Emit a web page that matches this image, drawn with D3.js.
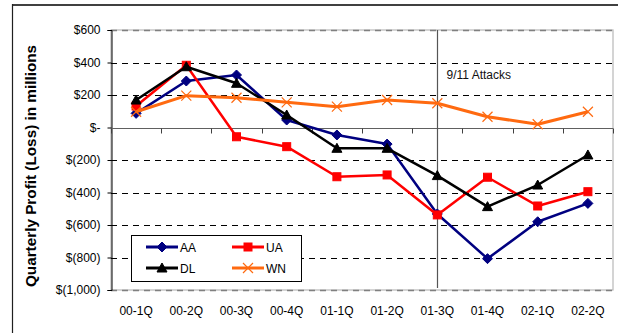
<!DOCTYPE html>
<html>
<head>
<meta charset="utf-8">
<script src="https://cdn.jsdelivr.net/npm/d3@7"></script>
<style>
  html, body { margin: 0; padding: 0; background: #fff; }
  svg { display: block; font-family: Arial, "Liberation Sans", sans-serif; }
</style>
</head>
<body>
<svg id="chart" width="618" height="333"></svg>
<script>
// Quarterly profit (loss) of four US airlines, $ millions
const quarters = ["00-1Q", "00-2Q", "00-3Q", "00-4Q", "01-1Q", "01-2Q", "01-3Q", "01-4Q", "02-1Q", "02-2Q"];
const aa = [87, 286, 323, 46, -46, -102, -532, -807, -580, -467];
const ua = [132, 383, -57, -118, -303, -292, -538, -306, -483, -395];
const dl = [169, 374, 272, 77, -128, -128, -296, -487, -354, -169];
const wn = [97, 196, 183, 155, 128, 169, 149, 66, 20, 97];
const yTicks = [600, 400, 200, 0, -200, -400, -600, -800, -1000];
const eventQuarter = "01-3Q";
const eventLabel = "9/11 Attacks";

const series = [
  { name: "AA", values: aa, color: "#000080", marker: "diamond" },
  { name: "UA", values: ua, color: "#ff0000", marker: "square" },
  { name: "DL", values: dl, color: "#000000", marker: "triangle" },
  { name: "WN", values: wn, color: "#ff6a10", marker: "cross" }
];

const svg = d3.select("#chart");
const plot = { left: 111, right: 613, top: 30, bottom: 290 };

// outer frame
svg.append("line").attr("x1", 12).attr("x2", 618).attr("y1", 5).attr("y2", 5)
  .attr("stroke", "#404040").attr("stroke-width", 2);
svg.append("line").attr("x1", 12.5).attr("x2", 12.5).attr("y1", 4).attr("y2", 333)
  .attr("stroke", "#202020").attr("stroke-width", 1.2);

const x = d3.scaleBand().domain(quarters).range([plot.left, plot.right]);
const y = d3.scaleLinear().domain([-1000, 600]).range([plot.bottom, plot.top]);

const fmt = v => v === 0 ? "$-" : (v < 0 ? "$(" + d3.format(",")(-v) + ")" : "$" + d3.format(",")(v));

// plot area border
svg.append("rect").attr("x", plot.left).attr("y", plot.top)
  .attr("width", plot.right - plot.left).attr("height", plot.bottom - plot.top)
  .attr("fill", "none").attr("stroke", "#b8b8b8").attr("stroke-width", 1.2);

// dashed gridlines
svg.append("g").selectAll("line").data(yTicks.filter(v => v !== 0)).join("line")
  .attr("x1", plot.left).attr("x2", plot.right)
  .attr("y1", d => Math.round(y(d)) + 0.5).attr("y2", d => Math.round(y(d)) + 0.5)
  .attr("stroke", d => (d === 600 || d === -1000) ? "#808080" : "#000")
  .attr("stroke-width", d => (d === 600 || d === -1000) ? 1.5 : 1)
  .attr("stroke-dasharray", "6,5");

// y axis
const yAxis = svg.append("g").attr("transform", `translate(${plot.left + 0.5},0)`)
  .call(d3.axisLeft(y).tickValues(yTicks).tickFormat(fmt).tickSize(4).tickPadding(7));
yAxis.select(".domain").attr("stroke", "#000");
yAxis.selectAll(".tick line").attr("stroke", "#000");
yAxis.selectAll("text").attr("font-size", 12).attr("fill", "#000")
  .attr("font-family", "Arial, 'Liberation Sans', sans-serif");

// zero line with category tick marks
const y0 = Math.round(y(0)) + 0.5;
svg.append("line").attr("x1", plot.left).attr("x2", plot.right).attr("y1", y0).attr("y2", y0)
  .attr("stroke", "#606060").attr("stroke-width", 1);
const bounds = quarters.map(q => x(q)).concat([plot.right]);
svg.append("g").selectAll("line").data(bounds).join("line")
  .attr("x1", d => Math.round(d) + 0.5).attr("x2", d => Math.round(d) + 0.5)
  .attr("y1", y0).attr("y2", y0 + 5).attr("stroke", "#404040");

// category labels along the bottom
svg.append("g").selectAll("text").data(quarters).join("text")
  .attr("x", d => x(d) + x.bandwidth() / 2).attr("y", 315)
  .attr("text-anchor", "middle").attr("font-size", 12).attr("fill", "#000")
  .text(d => d);

// event marker
const ex = Math.round(x(eventQuarter) + x.bandwidth() / 2) + 0.5;
svg.append("line").attr("x1", ex).attr("x2", ex).attr("y1", plot.top).attr("y2", plot.bottom - 2)
  .attr("stroke", "#555").attr("stroke-width", 1.2);
svg.append("text").attr("x", ex + 9).attr("y", 79).attr("font-size", 12).attr("fill", "#111")
  .text(eventLabel);

// y axis title
svg.append("text")
  .attr("transform", `translate(35.5,166) rotate(-90)`)
  .attr("text-anchor", "middle").attr("font-size", 15.3).attr("font-weight", "bold")
  .text("Quarterly Profit (Loss) in millions");

function drawMarker(g, type, color, cx, cy) {
  if (type === "diamond") {
    g.append("path").attr("d", `M${cx},${cy - 5}L${cx + 5},${cy}L${cx},${cy + 5}L${cx - 5},${cy}Z`)
      .attr("fill", color).attr("stroke", color);
  } else if (type === "square") {
    g.append("rect").attr("x", cx - 4).attr("y", cy - 4).attr("width", 8).attr("height", 8)
      .attr("fill", color).attr("stroke", color);
  } else if (type === "triangle") {
    g.append("path").attr("d", `M${cx},${cy - 5}L${cx + 5},${cy + 4}L${cx - 5},${cy + 4}Z`)
      .attr("fill", color).attr("stroke", color);
  } else {
    g.append("path").attr("d", `M${cx - 5},${cy - 5}L${cx + 5},${cy + 5}M${cx - 5},${cy + 5}L${cx + 5},${cy - 5}`)
      .attr("stroke", color).attr("stroke-width", 1.2).attr("fill", "none");
  }
}

const line = d3.line().x((d, i) => x(quarters[i]) + x.bandwidth() / 2).y(d => y(d));

// draw in series order so later series sit on top
const drawOrder = ["AA", "UA", "DL", "WN"];
drawOrder.forEach(name => {
  const s = series.find(t => t.name === name);
  const g = svg.append("g");
  g.append("path").datum(s.values).attr("d", line)
    .attr("fill", "none").attr("stroke", s.color).attr("stroke-width", name === "WN" ? 3 : 2.5)
    .attr("stroke-linejoin", "round");
  s.values.forEach((v, i) => drawMarker(g, s.marker, s.color, x(quarters[i]) + x.bandwidth() / 2, y(v)));
});

// legend
const lg = svg.append("g");
lg.append("rect").attr("x", 131.5).attr("y", 235.5).attr("width", 170).attr("height", 46)
  .attr("fill", "#fff").attr("stroke", "#000").attr("stroke-width", 1);
const legendPos = [
  { name: "AA", x: 146, y: 247 },
  { name: "UA", x: 232, y: 247 },
  { name: "DL", x: 146, y: 268 },
  { name: "WN", x: 232, y: 268 }
];
legendPos.forEach(p => {
  const s = series.find(t => t.name === p.name);
  lg.append("line").attr("x1", p.x).attr("x2", p.x + 32).attr("y1", p.y).attr("y2", p.y)
    .attr("stroke", s.color).attr("stroke-width", 3);
  drawMarker(lg, s.marker, s.color, p.x + 16, p.y);
  lg.append("text").attr("x", p.x + 34).attr("y", p.y + 4.5).attr("font-size", 12).attr("fill", "#000")
    .text(p.name);
});
</script>
</body>
</html>
